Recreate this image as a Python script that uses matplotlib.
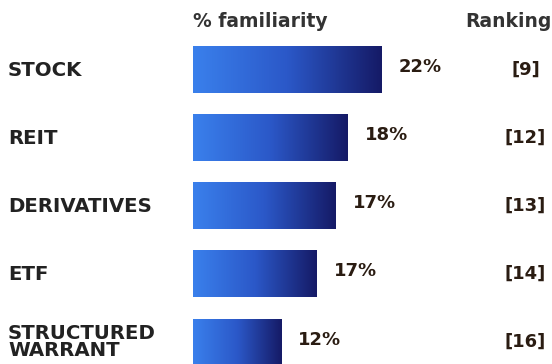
import numpy as np
import matplotlib
matplotlib.use("Agg")
import matplotlib.pyplot as plt
from matplotlib.colors import LinearSegmentedColormap

categories = ["STOCK", "REIT", "DERIVATIVES", "ETF", "STRUCTURED\nWARRANT"]
familiarity = [22, 18, 17, 17, 12]            # shown labels (%)
bar_length = [22, 18.1, 16.7, 14.5, 10.3]     # drawn bar lengths
ranking = ["[9]", "[12]", "[13]", "[14]", "[16]"]

W, H = 552, 364
fig = plt.figure(figsize=(W / 100, H / 100), dpi=100)
ax = fig.add_axes([193 / W, 0, 1 - 193 / W, 1])
ax.axis("off")

cmap = LinearSegmentedColormap.from_list("g", ["#3a80ec", "#2b58c8", "#151a66"])
grad = np.linspace(0, 1, 256).reshape(1, -1)
bh = 0.68
for i, (v, lab, rk) in enumerate(zip(bar_length, familiarity, ranking)):
    ax.imshow(grad, cmap=cmap, extent=[0, v, i + bh / 2, i - bh / 2],
              aspect="auto", interpolation="bicubic", zorder=2)
    ax.text(v + 2.0, i - 0.04, f"{lab}%", ha="left", va="center",
            fontsize=13, fontweight="bold", color="#2a1c12")
    ax.text(38.9, i + 0.0, rk, ha="center", va="center",
            fontsize=13, fontweight="bold", color="#2a1c12")

ax.set_ylim(4.32, -1.03)
ax.set_xlim(0, 42)

ax.text(0, -0.72, "% familiarity", ha="left", va="center", fontsize=13.5,
        fontweight="semibold", color="#333333")
ax.text(42, -0.72, "Ranking", ha="right", va="center", fontsize=13.5,
        fontweight="semibold", color="#333333")

for i, c in enumerate(categories):
    y_px = 70 + 68 * i
    fig.text(8 / W, 1 - y_px / H, c, ha="left", va="center", fontsize=14.2,
             fontweight="bold", color="#222222", linespacing=0.9)

fig.savefig("out.png", dpi=100, facecolor="white")
